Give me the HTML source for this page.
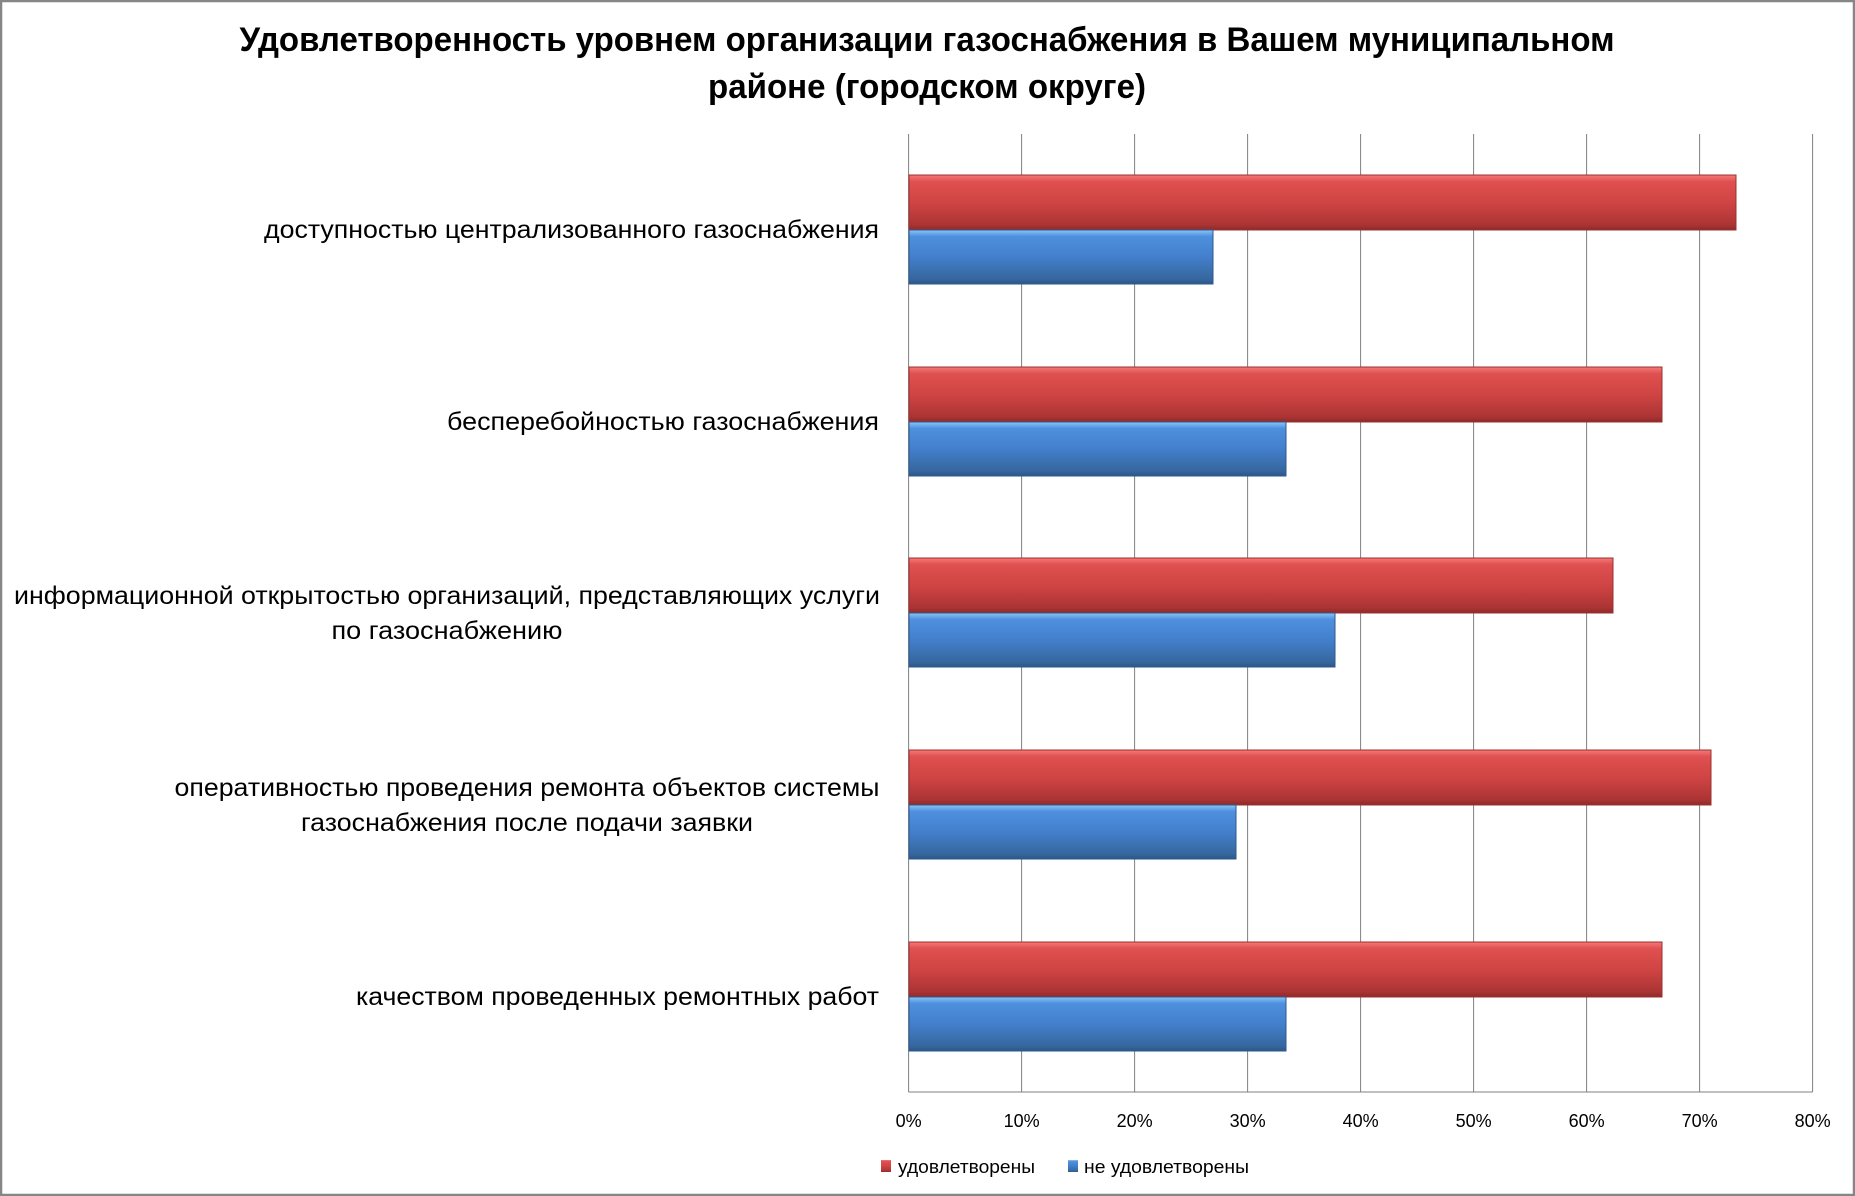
<!DOCTYPE html>
<html><head><meta charset="utf-8"><style>
html,body{margin:0;padding:0;background:#fff}
svg{display:block}
text{font-family:"Liberation Sans",sans-serif;fill:#000}
</style></head><body>
<svg width="1855" height="1196" viewBox="0 0 1855 1196" xmlns="http://www.w3.org/2000/svg">
<defs>
<linearGradient id="r" x1="0" y1="0" x2="0" y2="1">
<stop offset="0" stop-color="#f47a7a"/><stop offset="0.12" stop-color="#e05050"/><stop offset="0.5" stop-color="#d04444"/><stop offset="0.9" stop-color="#ac3434"/><stop offset="1" stop-color="#8e2a2a"/>
</linearGradient>
<linearGradient id="b" x1="0" y1="0" x2="0" y2="1">
<stop offset="0" stop-color="#8cc4f8"/><stop offset="0.12" stop-color="#4e90de"/><stop offset="0.5" stop-color="#437fcc"/><stop offset="0.9" stop-color="#36689f"/><stop offset="1" stop-color="#2c5688"/>
</linearGradient>
</defs>
<rect x="1" y="1" width="1853" height="1194" fill="#fff" stroke="#868686" stroke-width="2.5"/>
<text x="927" y="51" font-size="34" font-weight="bold" text-anchor="middle" textLength="1375" lengthAdjust="spacingAndGlyphs">Удовлетворенность уровнем организации газоснабжения в Вашем муниципальном</text>
<text x="927" y="98" font-size="34" font-weight="bold" text-anchor="middle" textLength="438" lengthAdjust="spacingAndGlyphs">районе (городском округе)</text>
<g stroke="#808080" stroke-width="1">
<line x1="1021.6" y1="134" x2="1021.6" y2="1092"/>
<line x1="1134.6" y1="134" x2="1134.6" y2="1092"/>
<line x1="1247.6" y1="134" x2="1247.6" y2="1092"/>
<line x1="1360.6" y1="134" x2="1360.6" y2="1092"/>
<line x1="1473.6" y1="134" x2="1473.6" y2="1092"/>
<line x1="1586.6" y1="134" x2="1586.6" y2="1092"/>
<line x1="1699.6" y1="134" x2="1699.6" y2="1092"/>
<line x1="1812.6" y1="134" x2="1812.6" y2="1092"/>
<line x1="908.6" y1="134" x2="908.6" y2="1092"/>
<line x1="908.6" y1="1092" x2="1812.6" y2="1092"/>
</g>
<g stroke-width="1">
<rect x="909" y="175" width="827" height="55" fill="url(#r)" stroke="#9a3030"/>
<rect x="909" y="230" width="304" height="54" fill="url(#b)" stroke="#2e5a8e"/>
<rect x="909" y="367" width="753" height="55" fill="url(#r)" stroke="#9a3030"/>
<rect x="909" y="422" width="377" height="54" fill="url(#b)" stroke="#2e5a8e"/>
<rect x="909" y="558" width="704" height="55" fill="url(#r)" stroke="#9a3030"/>
<rect x="909" y="613" width="426" height="54" fill="url(#b)" stroke="#2e5a8e"/>
<rect x="909" y="750" width="802" height="55" fill="url(#r)" stroke="#9a3030"/>
<rect x="909" y="805" width="327" height="54" fill="url(#b)" stroke="#2e5a8e"/>
<rect x="909" y="942" width="753" height="55" fill="url(#r)" stroke="#9a3030"/>
<rect x="909" y="997" width="377" height="54" fill="url(#b)" stroke="#2e5a8e"/>
</g>
<g font-size="25">
<text x="879" y="238" text-anchor="end" textLength="615" lengthAdjust="spacingAndGlyphs">доступностью централизованного газоснабжения</text>
<text x="879" y="430" text-anchor="end" textLength="432" lengthAdjust="spacingAndGlyphs">бесперебойностью  газоснабжения</text>
<text x="447" y="604" text-anchor="middle" textLength="866" lengthAdjust="spacingAndGlyphs">информационной открытостью организаций, представляющих услуги</text>
<text x="447" y="639" text-anchor="middle" textLength="231" lengthAdjust="spacingAndGlyphs">по газоснабжению</text>
<text x="527" y="796" text-anchor="middle" textLength="705" lengthAdjust="spacingAndGlyphs">оперативностью проведения ремонта объектов системы</text>
<text x="527" y="831" text-anchor="middle" textLength="452" lengthAdjust="spacingAndGlyphs">газоснабжения после подачи заявки</text>
<text x="879" y="1005" text-anchor="end" textLength="523" lengthAdjust="spacingAndGlyphs">качеством проведенных ремонтных работ</text>
</g>
<g font-size="18" text-anchor="middle">
<text x="908.6" y="1127">0%</text>
<text x="1021.6" y="1127">10%</text>
<text x="1134.6" y="1127">20%</text>
<text x="1247.6" y="1127">30%</text>
<text x="1360.6" y="1127">40%</text>
<text x="1473.6" y="1127">50%</text>
<text x="1586.6" y="1127">60%</text>
<text x="1699.6" y="1127">70%</text>
<text x="1812.6" y="1127">80%</text>
</g>
<rect x="881" y="1160" width="10" height="12" fill="url(#r)"/>
<text x="898" y="1173" font-size="18" textLength="137" lengthAdjust="spacingAndGlyphs">удовлетворены</text>
<rect x="1068" y="1160" width="10" height="12" fill="url(#b)"/>
<text x="1084" y="1173" font-size="18" textLength="165" lengthAdjust="spacingAndGlyphs">не удовлетворены</text>
</svg>
</body></html>
